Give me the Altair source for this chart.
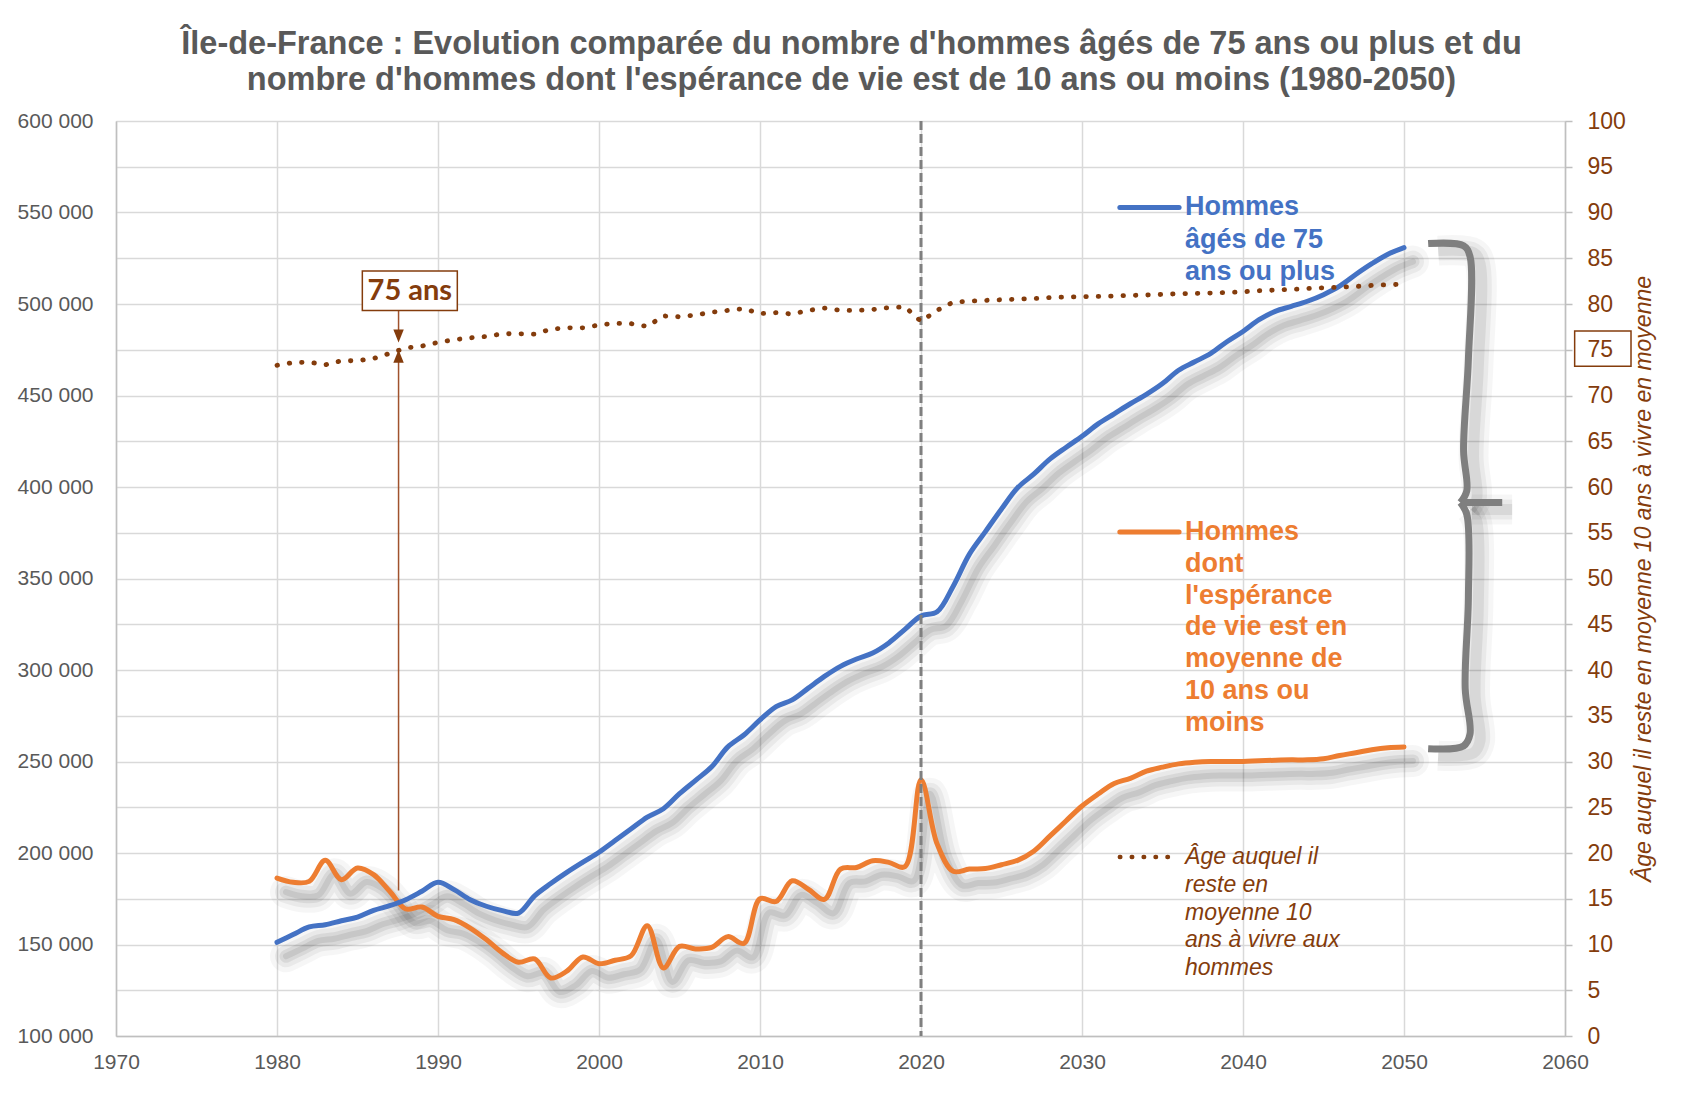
import altair as alt
import pandas as pd

# ---------------- data ----------------
years = list(range(1980, 2051))

hommes_75_plus = [
    151200, 155400, 159600, 160800, 163000, 165000, 168700, 171200, 174500, 179100,
    184000, 180000, 174500, 170900, 168500, 167200, 176600, 183300, 189400, 195000,
    200400, 206800, 213200, 219600, 224200, 232400, 239700, 247100, 258000, 264500,
    272700, 280000, 283700, 290100, 296500, 302000, 306000, 309300, 314800, 322200,
    329500, 331800, 345800, 363200, 375600, 388000, 399600, 407000, 415200, 421600,
    427700, 434500, 440000, 445500, 450600, 456500, 463800, 468400, 473000, 479400,
    485000, 491400, 496000, 498700, 501500, 505100, 509700, 516100, 522000, 527200,
    530800,
]

hommes_esperance_10 = [
    186300, 184000, 184500, 196000, 185400, 191800, 188200, 179100, 169400, 170500,
    165400, 163600, 159000, 152700, 145400, 140300, 142100, 131700, 135400, 143200,
    139500, 141400, 143900, 160300, 137200, 149000, 147600, 148400, 154300, 150600,
    175000, 173500, 184800, 180200, 174700, 191200, 192100, 195800, 194900, 192500,
    240000, 205000, 190000, 191200, 191500, 193600, 196000, 201000, 209200, 217500,
    225700, 232200, 238000, 240800, 244700, 246900, 248700, 249600, 250000, 250000,
    250000, 250400, 250700, 250900, 250900, 251500, 253300, 254800, 256400, 257500,
    257900,
]

age_reste_10_ans = [
    73.3, 73.6, 73.65, 73.35, 73.8, 73.8, 74.05, 74.6, 75.2, 75.4,
    75.8, 76.1, 76.3, 76.45, 76.75, 76.75, 76.7, 77.25, 77.4, 77.4,
    77.7, 77.9, 77.85, 77.55, 78.7, 78.6, 78.8, 79.1, 79.3, 79.5,
    78.95, 79.05, 78.9, 79.3, 79.55, 79.3, 79.3, 79.4, 79.6, 79.7,
    78.1, 79.3, 80.2, 80.3, 80.4, 80.47, 80.54, 80.6, 80.7, 80.76,
    80.8, 80.83, 80.87, 80.94, 80.98, 81.05, 81.12, 81.16, 81.2, 81.27,
    81.34, 81.45, 81.52, 81.6, 81.7, 81.78, 81.85, 81.92, 82.03, 82.1,
    82.17,
]

x_ticks = list(range(1970, 2061, 10))
left_ticks = list(range(100000, 600001, 50000))
right_ticks = list(range(0, 101, 5))

title_lines = [
    "Île-de-France : Evolution comparée du nombre d'hommes âgés de 75 ans ou plus et du",
    "nombre d'hommes dont l'espérance de vie est de 10 ans ou moins (1980-2050)",
]
right_axis_title = "Âge auquel il reste en moyenne  10 ans à vivre en moyenne"

label_blue = "Hommes\nâgés de 75\nans ou plus"
label_orange = "Hommes\ndont\nl'espérance\nde vie est en\nmoyenne de\n10 ans ou\nmoins"
label_age = "Âge auquel il\nreste en\nmoyenne 10\nans à vivre aux\nhommes"

# annotation anchors (data coordinates)
legend_x = [2032.35, 2036.03]
legend_text_x = 2036.4
legend_blue_v = 552700
legend_orange_v = 375400
legend_age_v = 197800
text_blue_v = 553000
text_orange_v = 375400
text_age_v = 197800

arrow_year = 1987.55
arrow_low_age = [15.9, 74.3]
arrow_high_age = [79.3, 76.5]
box75_x = [1985.3, 1991.2]
box75_age = [79.3, 83.6]
axis75_x = [2060.6, 2064.1]
axis75_age = [73.2, 77.05]

brace_year = [2051.5, 2053.7, 2054.1, 2054.0, 2053.7, 2053.9, 2053.5,
              2053.5, 2053.9, 2054.0, 2053.8, 2054.1, 2053.7, 2051.5,
              2053.6, 2056.1]
brace_v = [533000, 531800, 526000, 470000, 420000, 398000, 391500,
           391500, 385000, 340000, 290000, 265000, 258500, 257000,
           391500, 391500]
brace_seg = [0] * 7 + [1] * 7 + [2] * 2

# ---------------- styles ----------------
BROWN = "#843C0C"
BLUE = "#4472C4"
ORANGE = "#ED7D31"
TXT = "#595959"
GRID = "#d9d9d9"
AXIS = "#bfbfbf"
FONT = "Liberation Sans"

df = pd.DataFrame({"year": years, "blue": hommes_75_plus,
                   "orange": hommes_esperance_10, "age": age_reste_10_ans})

X = alt.X("year:Q",
          scale=alt.Scale(domain=[1970, 2060], nice=False, zero=False),
          axis=alt.Axis(values=x_ticks, format="d", grid=True, gridColor=GRID,
                        gridWidth=1.5, ticks=False, tickSize=0, domainColor=AXIS,
                        domainWidth=1.5, labelFontSize=21, labelColor=TXT,
                        labelFont=FONT, labelPadding=15, labelFlush=False,
                        title=None))

left_scale = alt.Scale(domain=[100000, 600000], nice=False, zero=False)
left_axis = alt.Axis(values=left_ticks, grid=False, ticks=False, tickSize=0,
                     labelExpr="replace(format(datum.value, ',d'), ',', ' ')",
                     domainColor=AXIS, domainWidth=1.5, labelFontSize=21,
                     labelColor=TXT, labelFont=FONT, labelPadding=23,
                     labelFlush=False, title=None)


def YL(field):
    return alt.Y(f"{field}:Q", scale=left_scale, axis=left_axis)


age_scale = alt.Scale(domain=[0, 100], nice=False, zero=False)
right_axis = alt.Axis(orient="right", values=right_ticks, grid=True, gridColor=GRID,
                      gridWidth=1.5, ticks=True, tickSize=7, tickColor=AXIS,
                      tickWidth=1.5, domainColor=AXIS, domainWidth=1.5,
                      labelColor=BROWN, labelFontSize=23, labelFont=FONT,
                      labelPadding=15, labelFlush=False,
                      title=right_axis_title, titleFont=FONT,
                      titleFontStyle="italic", titleFontWeight="normal",
                      titleColor=BROWN, titleFontSize=23, titleAngle=270,
                      titlePadding=30)


def YR(field):
    return alt.Y(f"{field}:Q", scale=age_scale, axis=right_axis)


base = alt.Chart(df)

# shadows (soft, offset down-right)
shadows = []
for fld in ["blue", "orange"]:
    for w, op in [(32, 0.035), (22, 0.05), (13, 0.07), (6, 0.08)]:
        shadows.append(base.mark_line(interpolate="catmull-rom", color="#000000",
                                      opacity=op, strokeWidth=w, xOffset=9,
                                      yOffset=14, strokeCap="round")
                       .encode(x=X, y=YL(fld)))

orange_line = base.mark_line(interpolate="catmull-rom", color=ORANGE, strokeWidth=5,
                             strokeCap="round").encode(x=X, y=YL("orange"))
blue_line = base.mark_line(interpolate="catmull-rom", color=BLUE, strokeWidth=5,
                           strokeCap="round").encode(x=X, y=YL("blue"))

rule2020 = alt.Chart(pd.DataFrame({"year": [2020]})).mark_rule(
    color="#7f7f7f", strokeWidth=3, strokeDash=[9, 4]).encode(x=X)

# brace
brace_df = pd.DataFrame({"year": brace_year, "v": brace_v, "seg": brace_seg,
                         "order": list(range(len(brace_year)))})
brace_shadow = []
for w, op in [(30, 0.035), (20, 0.05), (11, 0.07)]:
    brace_shadow.append(alt.Chart(brace_df).mark_line(
        interpolate="catmull-rom", color="#000000", opacity=op, strokeWidth=w,
        xOffset=10, yOffset=7).encode(x=X, y=YL("v"), detail="seg:N", order="order:Q"))
brace = alt.Chart(brace_df).mark_line(
    interpolate="catmull-rom", color="#7f7f7f", strokeWidth=7).encode(
    x=X, y=YL("v"), detail="seg:N", order="order:Q")

# legend-like labels
leg_df = pd.DataFrame({"year": [legend_x[0]] * 2, "year2": [legend_x[1]] * 2,
                       "v": [legend_blue_v, legend_orange_v], "c": [BLUE, ORANGE]})
leg_rules = alt.Chart(leg_df).mark_rule(strokeWidth=5, strokeCap="round").encode(
    x=X, x2="year2:Q", y=YL("v"), color=alt.Color("c:N", scale=None))
leg_age = alt.Chart(pd.DataFrame({"year": [legend_x[0]], "year2": [legend_x[1]],
                                  "v": [legend_age_v]})).mark_rule(
    color=BROWN, strokeWidth=4.5, strokeDash=[0.5, 11.4], strokeCap="round").encode(
    x=X, x2="year2:Q", y=YL("v"))

txt_blue = alt.Chart(pd.DataFrame({"year": [legend_text_x], "v": [text_blue_v],
                                   "label": [label_blue]})).mark_text(
    align="left", baseline="middle", font=FONT, fontWeight="bold", fontSize=27,
    lineHeight=32.5, lineBreak="\n", color=BLUE).encode(x=X, y=YL("v"), text="label:N")
txt_orange = alt.Chart(pd.DataFrame({"year": [legend_text_x], "v": [text_orange_v],
                                     "label": [label_orange]})).mark_text(
    align="left", baseline="middle", font=FONT, fontWeight="bold", fontSize=27,
    lineHeight=31.8, lineBreak="\n", color=ORANGE).encode(x=X, y=YL("v"), text="label:N")
txt_age = alt.Chart(pd.DataFrame({"year": [legend_text_x], "v": [text_age_v],
                                  "label": [label_age]})).mark_text(
    align="left", baseline="middle", font=FONT, fontStyle="italic", fontSize=23,
    lineHeight=27.8, lineBreak="\n", color=BROWN).encode(x=X, y=YL("v"), text="label:N")

layer_left = alt.layer(*shadows, orange_line, blue_line, rule2020, *brace_shadow, brace,
                       leg_rules, leg_age, txt_blue, txt_orange, txt_age)

# ----- right (age) layer -----
dotted = base.mark_line(color=BROWN, strokeWidth=4.8, strokeDash=[0.5, 11.9],
                        strokeCap="round").encode(x=X, y=YR("age"))

arrow_df = pd.DataFrame({"year": [arrow_year] * 2,
                         "a1": [arrow_low_age[0], arrow_high_age[0]],
                         "a2": [arrow_low_age[1], arrow_high_age[1]]})
arrow_lines = alt.Chart(arrow_df).mark_rule(color="#A0522D", strokeWidth=1.5).encode(
    x=X, y=YR("a1"), y2="a2:Q")
head_df = pd.DataFrame({"year": [arrow_year] * 2,
                        "a": [arrow_high_age[1], arrow_low_age[1]],
                        "shape": ["M-0.8,-1L0.8,-1L0,1Z", "M-0.8,1L0.8,1L0,-1Z"]})
heads = alt.Chart(head_df).mark_point(filled=True, color=BROWN, opacity=1, size=170).encode(
    x=X, y=YR("a"), shape=alt.Shape("shape:N", scale=None))

box_df = pd.DataFrame({"year": [box75_x[0]], "year2": [box75_x[1]],
                       "a1": [box75_age[0]], "a2": [box75_age[1]]})
box = alt.Chart(box_df).mark_rect(fill="white", stroke=BROWN, strokeWidth=1.5).encode(
    x=X, x2="year2:Q", y=YR("a1"), y2="a2:Q")
box_text = alt.Chart(pd.DataFrame({"year": [sum(box75_x) / 2],
                                   "a": [sum(box75_age) / 2],
                                   "label": ["75 ans"]})).mark_text(
    font="Lato", fontWeight="bold", fontSize=29, color=BROWN, baseline="middle",
    align="center").encode(x=X, y=YR("a"), text="label:N")

axbox_df = pd.DataFrame({"year": [axis75_x[0]], "year2": [axis75_x[1]],
                         "a1": [axis75_age[0]], "a2": [axis75_age[1]]})
axbox = alt.Chart(axbox_df).mark_rect(filled=False, stroke=BROWN, strokeWidth=1.5).encode(
    x=X, x2="year2:Q", y=YR("a1"), y2="a2:Q")

layer_right = alt.layer(dotted, arrow_lines, heads, box, box_text, axbox)

chart = alt.layer(layer_left, layer_right).resolve_scale(y="independent").properties(
    width=1449, height=915,
    title=alt.TitleParams(text=title_lines, font=FONT, fontSize=32.5, fontWeight="bold",
                          color=TXT, anchor="middle", frame="group", lineHeight=35.5,
                          dx=11, offset=14),
    autosize=alt.AutoSizeParams(type="none"),
    padding={"left": 108, "top": 113, "right": 113, "bottom": 61},
).configure_view(stroke=None).configure(background="white")

chart.save("out.html", embed_options={"renderer": "svg", "actions": False})
